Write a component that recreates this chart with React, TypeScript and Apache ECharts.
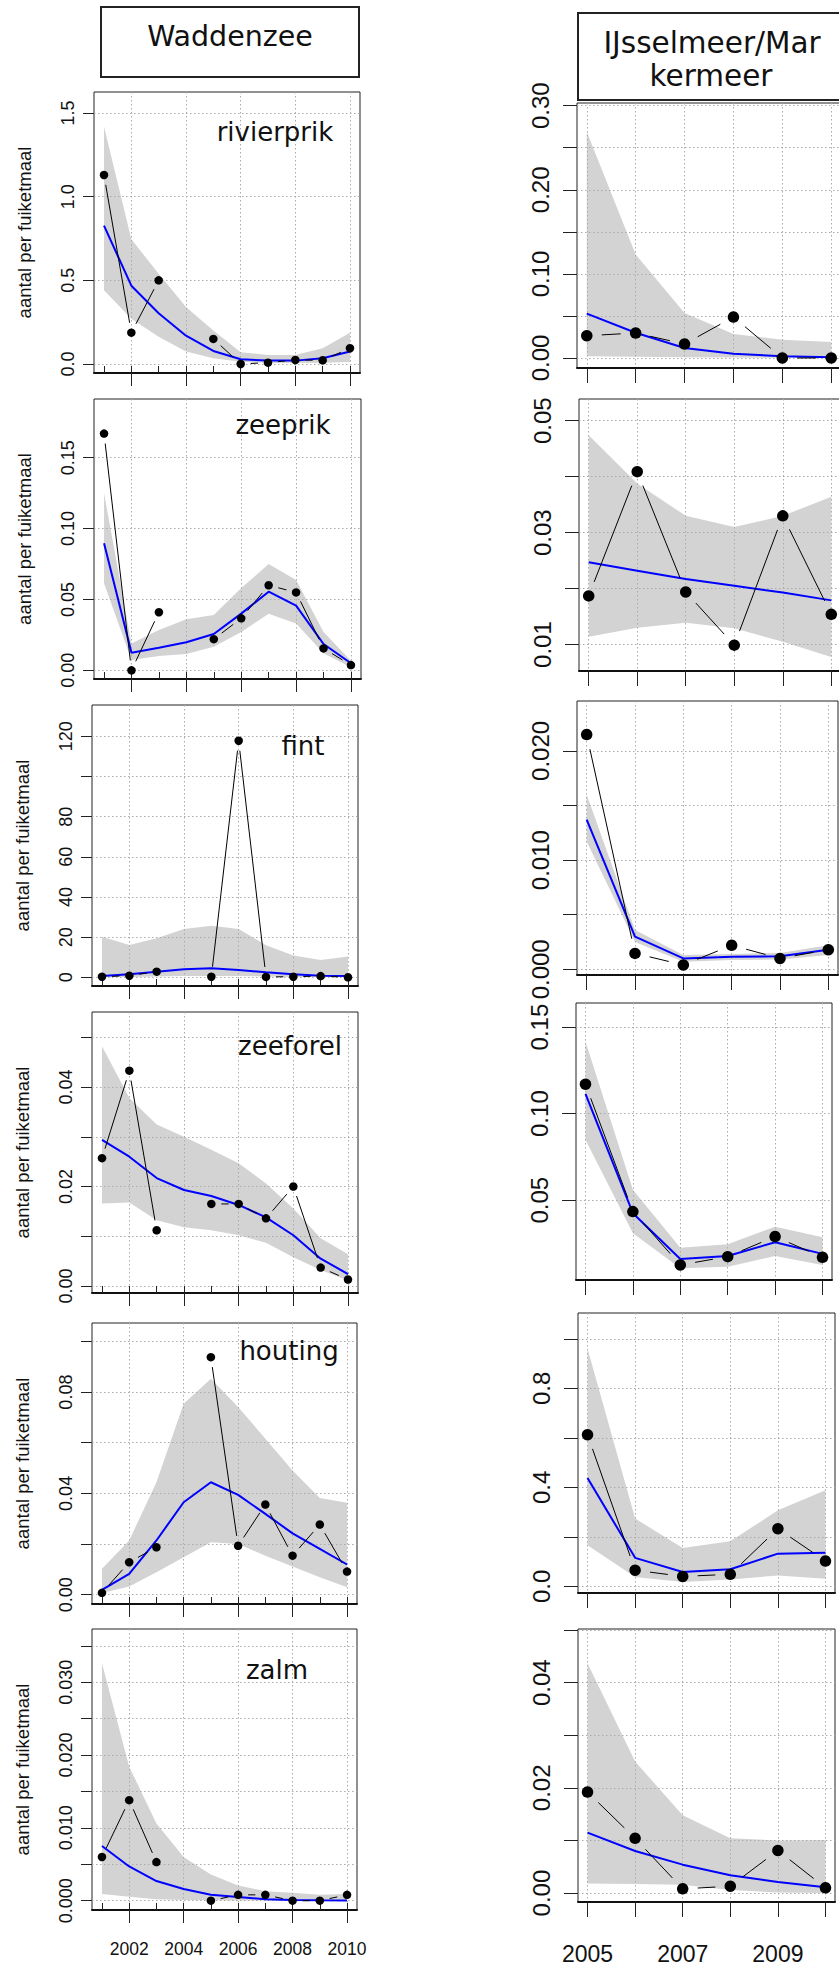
import React, { useEffect, useRef } from "react";
import * as echarts from "echarts";

// ---------- categories ----------
const yearsW = [2001, 2002, 2003, 2004, 2005, 2006, 2007, 2008, 2009, 2010];
const yearsI = [2005, 2006, 2007, 2008, 2009, 2010];
const xTicksWEven = [2002, 2004, 2006, 2008, 2010];
const xLabelsI = [2005, 2007, 2009];
const regionW = "Waddenzee";
const regionI1 = "IJsselmeer/Mar";
const regionI2 = "kermeer";
const yTitle = "aantal per fuiketmaal";

// ---------- Waddenzee ----------
const wRivObs = [1.13, 0.187, 0.5, null, 0.15, 0.0, 0.008, 0.024, 0.022, 0.094];
const wRivFit = [0.827, 0.468, 0.303, 0.169, 0.078, 0.028, 0.02, 0.02, 0.034, 0.074];
const wRivHi = [1.42, 0.745, 0.54, 0.34, 0.2, 0.07, 0.054, 0.054, 0.094, 0.187];
const wRivLo = [0.44, 0.27, 0.163, 0.074, 0.034, 0.014, 0.006, 0.006, 0.008, 0.012];

const wZeeObs = [0.167, 0.0, 0.041, null, 0.022, 0.0367, 0.06, 0.055, 0.0155, 0.0037];
const wZeeFit = [0.0896, 0.0124, 0.016, 0.0198, 0.0256, 0.04, 0.0555, 0.0456, 0.0186, 0.005];
const wZeeHi = [0.125, 0.019, 0.0284, 0.036, 0.039, 0.058, 0.075, 0.0637, 0.027, 0.0068];
const wZeeLo = [0.0614, 0.0073, 0.0101, 0.0115, 0.0167, 0.027, 0.04, 0.033, 0.012, 0.0021];

const wFintObs = [0.3, 0.8, 2.8, null, 0.3, 117.8, 0.2, 0.3, 0.6, 0.0];
const wFintFit = [0.65, 1.5, 2.8, 4.0, 4.5, 3.6, 2.5, 1.5, 0.8, 0.65];
const wFintHi = [20.2, 16.1, 19.4, 24.0, 25.7, 24.0, 16.0, 10.8, 8.6, 10.3];
const wFintLo = [0.1, 0.2, 0.4, 0.6, 0.7, 0.6, 0.4, 0.2, 0.1, 0.1];

const wForObs = [0.0257, 0.0433, 0.0112, null, 0.0165, 0.0165, 0.0136, 0.02, 0.0037, 0.0013];
const wForFit = [0.0294, 0.026, 0.0217, 0.0193, 0.0181, 0.0163, 0.0138, 0.0102, 0.0055, 0.0024];
const wForHi = [0.0482, 0.0378, 0.0325, 0.03, 0.0274, 0.0247, 0.0206, 0.0156, 0.0096, 0.0064];
const wForLo = [0.0166, 0.0168, 0.0132, 0.0118, 0.0112, 0.0102, 0.0087, 0.0058, 0.0032, 0.0011];

const wHoutObs = [0.0007, 0.0128, 0.0187, null, 0.0938, 0.0193, 0.0356, 0.0154, 0.0277, 0.0091];
const wHoutFit = [0.0019, 0.0082, 0.0214, 0.0365, 0.0444, 0.0394, 0.0319, 0.0242, 0.0181, 0.0119];
const wHoutHi = [0.0102, 0.0214, 0.0444, 0.0754, 0.0853, 0.0741, 0.0616, 0.049, 0.0382, 0.0363];
const wHoutLo = [0.0006, 0.0032, 0.0088, 0.0148, 0.0207, 0.02, 0.0154, 0.0111, 0.0069, 0.0029];

const wZalmObs = [0.006, 0.0138, 0.0053, null, 0.0, 0.0008, 0.0008, 0.0, 0.0, 0.0008];
const wZalmFit = [0.0075, 0.0047, 0.0027, 0.0016, 0.0008, 0.0005, 0.0002, 0.0001, 0.00005, 0.00003];
const wZalmHi = [0.0326, 0.0184, 0.0106, 0.006, 0.0036, 0.0021, 0.0013, 0.0011, 0.0008, 0.0009];
const wZalmLo = [0.0009, 0.00055, 0.0002, 0.0001, 0.00005, 0.00002, 0.00001, 0, 0, 0];

// ---------- IJsselmeer/Markermeer ----------
const iRivObs = [0.0265, 0.0297, 0.0166, 0.0487, 0.0, 0.0];
const iRivFit = [0.0527, 0.03, 0.0119, 0.005, 0.0021, 0.001];
const iRivHi = [0.269, 0.123, 0.0535, 0.0285, 0.0218, 0.019];
const iRivLo = [0.002, 0.0015, 0.001, 0.0005, 0.0002, 0.0001];

const iZeeObs = [0.0187, 0.0409, 0.0194, 0.0099, 0.033, 0.0154];
const iZeeFit = [0.0247, 0.0232, 0.0217, 0.0205, 0.0193, 0.0179];
const iZeeHi = [0.0474, 0.0388, 0.033, 0.031, 0.033, 0.0364];
const iZeeLo = [0.0114, 0.013, 0.0139, 0.0129, 0.0105, 0.0078];

const iFintObs = [0.0215, 0.00146, 0.0004, 0.0022, 0.001, 0.0018];
const iFintFit = [0.0137, 0.003, 0.001, 0.00115, 0.0012, 0.0018];
const iFintHi = [0.016, 0.0036, 0.0013, 0.0014, 0.0015, 0.0022];
const iFintLo = [0.0117, 0.0025, 0.0007, 0.00085, 0.0009, 0.0013];

const iForObs = [0.117, 0.0434, 0.0126, 0.0174, 0.029, 0.017];
const iForFit = [0.1114, 0.0425, 0.016, 0.0178, 0.0257, 0.019];
const iForHi = [0.1417, 0.056, 0.0226, 0.0246, 0.0347, 0.0286];
const iForLo = [0.0849, 0.0309, 0.0107, 0.0116, 0.0178, 0.0126];

const iHoutObs = [0.613, 0.065, 0.04, 0.0485, 0.233, 0.102];
const iHoutFit = [0.438, 0.115, 0.058, 0.069, 0.132, 0.136];
const iHoutHi = [0.961, 0.274, 0.155, 0.182, 0.307, 0.388];
const iHoutLo = [0.166, 0.038, 0.017, 0.027, 0.044, 0.031];

const iZalmObs = [0.0192, 0.0104, 0.0008, 0.0013, 0.0081, 0.001];
const iZalmFit = [0.0115, 0.008, 0.0054, 0.0034, 0.0021, 0.0011];
const iZalmHi = [0.0437, 0.025, 0.0148, 0.0104, 0.01, 0.0101];
const iZalmLo = [0.0018, 0.0017, 0.0016, 0.0006, 0.0001, 0.0];

// ---------- y-axis ticks / labels per panel ----------
const ticksWRiv = [0, 0.5, 1, 1.5];
const ticksWZee = [0, 0.05, 0.1, 0.15];
const ticksWFint = [0, 20, 40, 60, 80, 100, 120];
const labelsWFint = [0, 20, 40, 60, 80, 120];
const ticksWFor = [0, 0.01, 0.02, 0.03, 0.04, 0.05];
const labelsWFor = [0, 0.02, 0.04];
const ticksWHout = [0, 0.02, 0.04, 0.06, 0.08, 0.1];
const labelsWHout = [0, 0.04, 0.08];
const ticksWZalm = [0, 0.005, 0.01, 0.015, 0.02, 0.025, 0.03, 0.035];
const labelsWZalm = [0, 0.01, 0.02, 0.03];
const ticksIRiv = [0, 0.05, 0.1, 0.15, 0.2, 0.25, 0.3];
const labelsIRiv = [0, 0.1, 0.2, 0.3];
const ticksIZee = [0.01, 0.02, 0.03, 0.04, 0.05];
const labelsIZee = [0.01, 0.03, 0.05];
const ticksIFint = [0, 0.005, 0.01, 0.015, 0.02];
const labelsIFint = [0, 0.01, 0.02];
const ticksIFor = [0.05, 0.1, 0.15];
const ticksIHout = [0, 0.2, 0.4, 0.6, 0.8, 1.0];
const labelsIHout = [0, 0.4, 0.8];
const ticksIZalm = [0, 0.01, 0.02, 0.03, 0.04, 0.05];
const labelsIZalm = [0, 0.02, 0.04];

type Panel = {
  side: "W" | "I";
  name?: string;
  obs: (number | null)[];
  fit: number[];
  lo: number[];
  hi: number[];
  box: [number, number, number, number];
  y: [number, number];
  ticks: number[];
  labels: number[];
  dec: number;
  ann?: [number, number];
  lastRow?: boolean;
};

// layout (positions/sizes) kept separately from data
const panels: Panel[] = [
  { side: "W", name: "rivierprik", obs: wRivObs, fit: wRivFit, lo: wRivLo, hi: wRivHi, box: [94, 92, 266, 281], y: [-0.054, 1.626], ticks: ticksWRiv, labels: ticksWRiv, dec: 1, ann: [275, 132] },
  { side: "W", name: "zeeprik", obs: wZeeObs, fit: wZeeFit, lo: wZeeLo, hi: wZeeHi, box: [94, 399, 267, 280], y: [-0.0061, 0.1914], ticks: ticksWZee, labels: ticksWZee, dec: 2, ann: [283, 425] },
  { side: "W", name: "fint", obs: wFintObs, fit: wFintFit, lo: wFintLo, hi: wFintHi, box: [92, 705, 266, 281], y: [-4.33, 135.6], ticks: ticksWFint, labels: labelsWFint, dec: 0, ann: [303, 746] },
  { side: "W", name: "zeeforel", obs: wForObs, fit: wForFit, lo: wForLo, hi: wForHi, box: [92, 1012, 266, 281], y: [-0.00141, 0.0551], ticks: ticksWFor, labels: labelsWFor, dec: 2, ann: [290, 1046] },
  { side: "W", name: "houting", obs: wHoutObs, fit: wHoutFit, lo: wHoutLo, hi: wHoutHi, box: [92, 1323, 265, 281], y: [-0.0037, 0.1073], ticks: ticksWHout, labels: labelsWHout, dec: 2, ann: [289, 1351] },
  { side: "W", name: "zalm", obs: wZalmObs, fit: wZalmFit, lo: wZalmLo, hi: wZalmHi, box: [92, 1629, 265, 281], y: [-0.00128, 0.0373], ticks: ticksWZalm, labels: labelsWZalm, dec: 3, ann: [277, 1670], lastRow: true },
  { side: "I", obs: iRivObs, fit: iRivFit, lo: iRivLo, hi: iRivHi, box: [577, 103, 264, 265], y: [-0.0119, 0.3032], ticks: ticksIRiv, labels: labelsIRiv, dec: 2 },
  { side: "I", obs: iZeeObs, fit: iZeeFit, lo: iZeeLo, hi: iZeeHi, box: [579, 399, 262, 272], y: [0.00528, 0.05388], ticks: ticksIZee, labels: labelsIZee, dec: 2 },
  { side: "I", obs: iFintObs, fit: iFintFit, lo: iFintLo, hi: iFintHi, box: [577, 701, 261, 274], y: [-0.00052, 0.02457], ticks: ticksIFint, labels: labelsIFint, dec: 3 },
  { side: "I", obs: iForObs, fit: iForFit, lo: iForLo, hi: iForHi, box: [576, 1003, 256, 277], y: [0.0039, 0.1639], ticks: ticksIFor, labels: ticksIFor, dec: 2 },
  { side: "I", obs: iHoutObs, fit: iHoutFit, lo: iHoutLo, hi: iHoutHi, box: [578, 1313, 257, 280], y: [-0.0271, 1.105], ticks: ticksIHout, labels: labelsIHout, dec: 1 },
  { side: "I", obs: iZalmObs, fit: iZalmFit, lo: iZalmLo, hi: iZalmHi, box: [578, 1629, 257, 273], y: [-0.0017, 0.0502], ticks: ticksIZalm, labels: labelsIZalm, dec: 2, lastRow: true },
];

const AXIS_FONT = "Liberation Sans";
const TITLE_FONT = "DejaVu Sans";

function buildOption() {
  const grid: any[] = [];
  const xAxis: any[] = [];
  const yAxis: any[] = [];
  const series: any[] = [];
  const graphic: any[] = [];

  const gridLine = {
    show: true,
    lineStyle: { color: "#ababab", width: 1, type: [1.5, 2.5] },
  };

  panels.forEach((p, i) => {
    const isW = p.side === "W";
    const years = isW ? yearsW : yearsI;
    const [left, top, width, height] = p.box;
    const xMin = isW ? 2000.634 : 2004.8;
    const xMax = isW ? 2010.366 : 2010.2;

    grid.push({
      left, top, width, height,
      show: true,
      borderColor: "#222",
      borderWidth: 1,
      backgroundColor: "rgba(0,0,0,0)",
      containLabel: false,
      outerBoundsMode: "none",
    });

    const xMain = xAxis.length;
    xAxis.push({
      type: "value",
      gridIndex: i,
      min: xMin,
      max: xMax,
      position: "bottom",
      z: 2,
      axisLine: { show: true, onZero: false, lineStyle: { color: "#111", width: 2 } },
      axisTick: {
        show: true,
        inside: false,
        length: isW ? 13 : 15,
        customValues: isW ? xTicksWEven : yearsI,
        lineStyle: { color: "#222", width: 1 },
      },
      axisLabel: {
        show: !!p.lastRow,
        customValues: isW ? xTicksWEven : xLabelsI,
        margin: isW ? 30 : 40,
        fontSize: isW ? 17.5 : 23,
        fontFamily: AXIS_FONT,
        color: "#111",
        formatter: (v: number) => String(Math.round(v)),
      },
      splitLine: gridLine,
    });
    if (isW) {
      // short inner ticks at every year, rising from the bottom axis
      xAxis.push({
        type: "value",
        gridIndex: i,
        min: xMin,
        max: xMax,
        position: "top",
        offset: -height,
        z: 2,
        axisLine: { show: false, onZero: false },
        axisTick: { show: true, length: 7, customValues: yearsW, lineStyle: { color: "#222", width: 1 } },
        axisLabel: { show: false },
        splitLine: { show: false },
      });
    }

    yAxis.push({
      type: "value",
      gridIndex: i,
      min: p.y[0],
      max: p.y[1],
      position: "left",
      z: 2,
      axisLine: { show: false, onZero: false },
      axisTick: {
        show: true,
        length: isW ? 11 : 14,
        customValues: p.ticks,
        lineStyle: { color: "#222", width: 1 },
      },
      axisLabel: {
        show: true,
        customValues: p.labels,
        rotate: 90,
        margin: isW ? 17 : 25,
        fontSize: isW ? 18 : 24,
        fontFamily: AXIS_FONT,
        color: "#111",
        formatter: (v: number) => v.toFixed(p.dec),
      },
      splitLine: gridLine,
      name: isW ? yTitle : "",
      nameLocation: "middle",
      nameRotate: 90,
      nameGap: 60,
      nameTextStyle: { fontSize: 18.5, fontFamily: AXIS_FONT, color: "#111" },
    });

    // confidence band
    series.push({
      type: "custom",
      xAxisIndex: xMain,
      yAxisIndex: i,
      z: 1,
      silent: true,
      data: years.map((y, k) => [y, p.lo[k], p.hi[k]]),
      encode: { x: 0, y: [1, 2] },
      renderItem: (params: any, api: any) => {
        if (params.dataIndex !== 0) return null;
        const upper = years.map((y, k) => api.coord([y, p.hi[k]]));
        const lower = years.map((y, k) => api.coord([y, p.lo[k]])).reverse();
        return {
          type: "polygon",
          shape: { points: upper.concat(lower) },
          style: { fill: "#d3d3d3", stroke: "none" },
        };
      },
    });

    // fitted trend
    series.push({
      type: "line",
      xAxisIndex: xMain,
      yAxisIndex: i,
      z: 3,
      silent: true,
      showSymbol: false,
      symbol: "none",
      lineStyle: { color: "#0000ff", width: 2, opacity: 1 },
      data: years.map((y, k) => [y, p.fit[k]]),
    });

    // observed connecting segments (R type "b": gaps around points)
    const segs: number[][] = [];
    for (let k = 0; k < years.length - 1; k++) {
      const a = p.obs[k];
      const b = p.obs[k + 1];
      if (a != null && b != null) segs.push([years[k], a, years[k + 1], b]);
    }
    const gap = isW ? 10 : 15;
    series.push({
      type: "custom",
      xAxisIndex: xMain,
      yAxisIndex: i,
      z: 4,
      silent: true,
      data: segs,
      encode: { x: [0, 2], y: [1, 3] },
      renderItem: (params: any, api: any) => {
        const a = api.coord([api.value(0), api.value(1)]);
        const b = api.coord([api.value(2), api.value(3)]);
        const dx = b[0] - a[0];
        const dy = b[1] - a[1];
        const d = Math.hypot(dx, dy);
        if (d <= 2 * gap) return null;
        const ux = dx / d;
        const uy = dy / d;
        return {
          type: "line",
          shape: { x1: a[0] + ux * gap, y1: a[1] + uy * gap, x2: b[0] - ux * gap, y2: b[1] - uy * gap },
          style: { stroke: "#000", lineWidth: 1 },
        };
      },
    });

    // observed points
    series.push({
      type: "scatter",
      xAxisIndex: xMain,
      yAxisIndex: i,
      z: 5,
      silent: true,
      symbol: "circle",
      symbolSize: isW ? 8.5 : 11.5,
      itemStyle: { color: "#000", opacity: 1 },
      data: years
        .map((y, k) => [y, p.obs[k]])
        .filter((d) => d[1] != null),
    });

    if (p.name && p.ann) {
      graphic.push({
        type: "text",
        x: p.ann[0],
        y: p.ann[1],
        z: 10,
        style: {
          text: p.name,
          fontSize: 26,
          fontFamily: TITLE_FONT,
          fill: "#111",
          align: "center",
          verticalAlign: "middle",
          textAlign: "center",
          textVerticalAlign: "middle",
        },
      });
    }
  });

  // strip titles
  graphic.push({
    type: "rect",
    shape: { x: 101, y: 7, width: 258, height: 70 },
    style: { fill: "none", stroke: "#222", lineWidth: 2 },
  });
  graphic.push({
    type: "text",
    x: 230,
    y: 36,
    style: {
      text: regionW, fontSize: 28.5, fontFamily: TITLE_FONT, fill: "#111",
      align: "center", verticalAlign: "middle", textAlign: "center", textVerticalAlign: "middle",
    },
  });
  graphic.push({
    type: "rect",
    shape: { x: 578, y: 13, width: 280, height: 87 },
    style: { fill: "none", stroke: "#222", lineWidth: 2 },
  });
  graphic.push({
    type: "text",
    x: 712,
    y: 43,
    style: {
      text: regionI1, fontSize: 29.5, fontFamily: TITLE_FONT, fill: "#111",
      align: "center", verticalAlign: "middle", textAlign: "center", textVerticalAlign: "middle",
    },
  });
  graphic.push({
    type: "text",
    x: 711,
    y: 76,
    style: {
      text: regionI2, fontSize: 29.5, fontFamily: TITLE_FONT, fill: "#111",
      align: "center", verticalAlign: "middle", textAlign: "center", textVerticalAlign: "middle",
    },
  });

  return {
    animation: false,
    backgroundColor: "#ffffff",
    textStyle: { fontFamily: AXIS_FONT },
    grid,
    xAxis,
    yAxis,
    series,
    graphic,
  };
}

export default function App() {
  const ref = useRef<HTMLDivElement>(null);
  useEffect(() => {
    if (!ref.current) return;
    const chart = echarts.init(ref.current, null, { renderer: "svg" });
    chart.setOption(buildOption() as any);
    return () => chart.dispose();
  }, []);
  return (
    <div
      ref={ref}
      style={{ position: "absolute", left: 0, top: 0, width: 839, height: 1966 }}
    />
  );
}
